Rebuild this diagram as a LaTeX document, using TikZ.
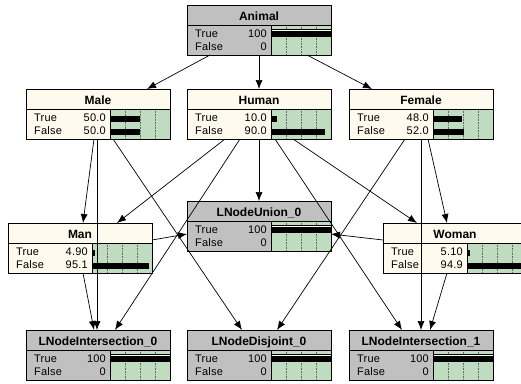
\documentclass[tikz,border=0pt]{standalone}
\usepackage{fontspec}
\setmainfont{Liberation Sans}
\newfontfamily\labfont[LetterSpace=2]{Liberation Sans}
\usetikzlibrary{arrows.meta,calc}
\definecolor{ngray}{RGB}{192,192,192}
\definecolor{ncream}{RGB}{255,250,238}
\definecolor{ngreen}{RGB}{192,220,192}
\tikzset{
  nbox/.style={draw=black, line width=0.8pt, anchor=north west, minimum width=144pt, minimum height=50pt, inner sep=0pt, outer sep=0pt},
  ttl/.style={font=\bfseries\fontsize{12}{13}\selectfont, inner sep=0pt, anchor=base},
  lab/.style={font=\labfont\fontsize{11}{12}\selectfont, inner sep=0pt, anchor=base west},
  val/.style={font=\labfont\fontsize{11}{12}\selectfont, inner sep=0pt, anchor=base east},
  gridl/.style={draw=black!60, densely dotted, line width=0.6pt},
  sepline/.style={draw=black, line width=0.7pt},
  barfill/.style={fill=black},
  greenbg/.style={fill=ngreen},
  link/.style={draw=black, line width=0.7pt, -{Latex[length=9pt,width=7pt]}}
}
% name, x, y, title, fill, v1, v2, p1, p2
\newcommand\netnode[9]{%
  \node[nbox, fill=#5] (#1) at (#2,#3) {};
  \fill[greenbg] (#2+84,#3+20) rectangle (#2+144,#3+50);
  \foreach \k in {15,30,45} {\draw[gridl] (#2+84+\k,#3+20) -- ++(0,30);}
  \ifdim #8pt=100pt
    \fill[barfill] (#2+84,#3+24) rectangle ++(60,8);
    \draw[white, line width=0.6pt] (#2+84,#3+25.6) -- ++(60,0);
  \else
    \fill[barfill] (#2+84,#3+26.5) rectangle ++(#8*0.6,6);
  \fi
  \fill[barfill] (#2+84,#3+39.5) rectangle ++(#9*0.6,6);
  \draw[sepline] (#2,#3+20) -- ++(144,0);
  \draw[sepline] (#2+84,#3+20) -- ++(0,30);
  \draw[line width=0.8pt] (#1.north west) rectangle (#1.south east);
  \node[ttl] (#1-title) at (#2+72,#3+15) {#4};
  \node[lab] (#1-l1) at (#2+8,#3+32) {True};
  \node[lab] (#1-l2) at (#2+8,#3+45.5) {False};
  \node[val] (#1-v1) at (#2+80,#3+32) {#6};
  \node[val] (#1-v2) at (#2+80,#3+45.5) {#7};
}
\begin{document}
\begin{tikzpicture}[x=1pt,y=-1pt]
\useasboundingbox (0,0) rectangle (521,383);
\clip (0,0) rectangle (521,383);
\fill[white] (0,0) rectangle (521,383);

\netnode{Animal}{187}{5}{Animal}{ngray}{100}{0}{100}{0}
\netnode{Male}{26}{89}{Male}{ncream}{50.0}{50.0}{50}{50}
\netnode{Human}{187}{89}{Human}{ncream}{10.0}{90.0}{10}{90}
\netnode{Female}{349}{89}{Female}{ncream}{48.0}{52.0}{48}{52}
\netnode{Union}{187}{201}{LNodeUnion\_0}{ngray}{100}{0}{100}{0}
\netnode{Man}{8}{223}{Man}{ncream}{4.90}{95.1}{4.9}{95.1}
\netnode{Woman}{383}{223}{Woman}{ncream}{5.10}{94.9}{5.1}{94.9}
\netnode{LNI0}{26}{330}{LNodeIntersection\_0}{ngray}{100}{0}{100}{0}
\netnode{Disj}{187}{330}{LNodeDisjoint\_0}{ngray}{100}{0}{100}{0}
\netnode{LNI1}{349}{330}{LNodeIntersection\_1}{ngray}{100}{0}{100}{0}

% links
\draw[link] ($(Animal.south west)+(23,0)$) -- ($(Male.north west)+(121,0)$);
\draw[link] ($(Animal.south west)+(72,0)$) -- ($(Human.north west)+(72,0)$);
\draw[link] ($(Animal.south west)+(120,0)$) -- ($(Female.north west)+(23,0)$);

\draw[link] ($(Male.south west)+(68,0)$) -- ($(Man.north west)+(75,0)$);
\draw[link] ($(Male.south west)+(71,0)$) -- ($(LNI0.north west)+(71,0)$);
\draw[link] ($(Male.south west)+(87,0)$) -- ($(Disj.north west)+(55,0)$);

\draw[link] ($(Human.south west)+(38,0)$) -- ($(Man.north west)+(109,0)$);
\draw[link] ($(Human.south west)+(53,0)$) -- ($(LNI0.north west)+(89,0)$);
\draw[link] ($(Human.south west)+(72,0)$) -- ($(Union.north west)+(72,0)$);
\draw[link] ($(Human.south west)+(88,0)$) -- ($(LNI1.north west)+(53,0)$);
\draw[link] ($(Human.south west)+(106,0)$) -- ($(Woman.north west)+(34,0)$);

\draw[link] ($(Female.south west)+(56,0)$) -- ($(Disj.north west)+(90,0)$);
\draw[link] ($(Female.south west)+(72,0)$) -- ($(LNI1.north west)+(72,0)$);
\draw[link] ($(Female.south west)+(79,0)$) -- ($(Woman.north west)+(64,0)$);

\draw[link] ($(Man.north west)+(144,17)$) -- ($(Union.north west)+(0,33)$);
\draw[link] ($(Woman.north west)+(0,17)$) -- ($(Union.north east)+(0,33)$);
\draw[link] ($(Man.south west)+(75,0)$) -- ($(LNI0.north west)+(68,0)$);
\draw[link] ($(Woman.south west)+(64,0)$) -- ($(LNI1.north west)+(81,0)$);
\end{tikzpicture}
\end{document}
